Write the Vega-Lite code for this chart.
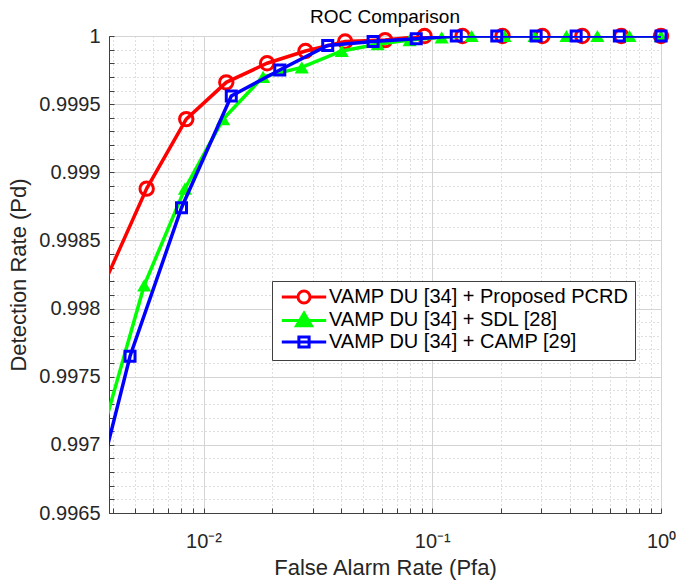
{
  "$schema": "https://vega.github.io/schema/vega-lite/v6.json",
  "width": 552,
  "height": 477,
  "autosize": {"type": "none"},
  "padding": {"left": 109, "top": 36, "right": 16, "bottom": 70},
  "background": "white",
  "title": {"text": "ROC Comparison", "fontSize": 19, "font": "Liberation Sans", "fontWeight": "normal", "color": "#000000", "offset": -4, "anchor": "middle"},
  "config": {
    "view": {"stroke": "#404040", "strokeWidth": 1},
    "font": "Liberation Sans"
  },
  "data": {"values": [
    {"series": "VAMP DU [34] + Proposed PCRD", "fa": 0.00376, "pd": 0.99822},
    {"series": "VAMP DU [34] + Proposed PCRD", "fa": 0.00564, "pd": 0.99888},
    {"series": "VAMP DU [34] + Proposed PCRD", "fa": 0.0084, "pd": 0.99939},
    {"series": "VAMP DU [34] + Proposed PCRD", "fa": 0.01257, "pd": 0.99966},
    {"series": "VAMP DU [34] + Proposed PCRD", "fa": 0.01896, "pd": 0.9998},
    {"series": "VAMP DU [34] + Proposed PCRD", "fa": 0.0279, "pd": 0.99989},
    {"series": "VAMP DU [34] + Proposed PCRD", "fa": 0.0416, "pd": 0.99996},
    {"series": "VAMP DU [34] + Proposed PCRD", "fa": 0.0622, "pd": 0.99997},
    {"series": "VAMP DU [34] + Proposed PCRD", "fa": 0.0925, "pd": 1.0},
    {"series": "VAMP DU [34] + Proposed PCRD", "fa": 0.1356, "pd": 1.0},
    {"series": "VAMP DU [34] + Proposed PCRD", "fa": 0.2028, "pd": 1.0},
    {"series": "VAMP DU [34] + Proposed PCRD", "fa": 0.3033, "pd": 1.0},
    {"series": "VAMP DU [34] + Proposed PCRD", "fa": 0.4531, "pd": 1.0},
    {"series": "VAMP DU [34] + Proposed PCRD", "fa": 0.6707, "pd": 1.0},
    {"series": "VAMP DU [34] + Proposed PCRD", "fa": 1.0, "pd": 1.0},
    {"series": "VAMP DU [34] + SDL [28]", "fa": 0.00367, "pd": 0.99713},
    {"series": "VAMP DU [34] + SDL [28]", "fa": 0.0055, "pd": 0.99817},
    {"series": "VAMP DU [34] + SDL [28]", "fa": 0.00829, "pd": 0.99888},
    {"series": "VAMP DU [34] + SDL [28]", "fa": 0.01218, "pd": 0.99939},
    {"series": "VAMP DU [34] + SDL [28]", "fa": 0.0182, "pd": 0.9997},
    {"series": "VAMP DU [34] + SDL [28]", "fa": 0.02687, "pd": 0.99977},
    {"series": "VAMP DU [34] + SDL [28]", "fa": 0.0402, "pd": 0.99989},
    {"series": "VAMP DU [34] + SDL [28]", "fa": 0.0577, "pd": 0.99994},
    {"series": "VAMP DU [34] + SDL [28]", "fa": 0.0796, "pd": 0.99997},
    {"series": "VAMP DU [34] + SDL [28]", "fa": 0.1099, "pd": 0.99999},
    {"series": "VAMP DU [34] + SDL [28]", "fa": 0.1486, "pd": 1.0},
    {"series": "VAMP DU [34] + SDL [28]", "fa": 0.207, "pd": 1.0},
    {"series": "VAMP DU [34] + SDL [28]", "fa": 0.28, "pd": 1.0},
    {"series": "VAMP DU [34] + SDL [28]", "fa": 0.386, "pd": 1.0},
    {"series": "VAMP DU [34] + SDL [28]", "fa": 0.527, "pd": 1.0},
    {"series": "VAMP DU [34] + SDL [28]", "fa": 0.728, "pd": 1.0},
    {"series": "VAMP DU [34] + SDL [28]", "fa": 1.0, "pd": 1.0},
    {"series": "VAMP DU [34] + CAMP [29]", "fa": 0.0032, "pd": 0.99649},
    {"series": "VAMP DU [34] + CAMP [29]", "fa": 0.00477, "pd": 0.99765},
    {"series": "VAMP DU [34] + CAMP [29]", "fa": 0.00801, "pd": 0.99874},
    {"series": "VAMP DU [34] + CAMP [29]", "fa": 0.01322, "pd": 0.99956},
    {"series": "VAMP DU [34] + CAMP [29]", "fa": 0.02154, "pd": 0.99975},
    {"series": "VAMP DU [34] + CAMP [29]", "fa": 0.0349, "pd": 0.99993},
    {"series": "VAMP DU [34] + CAMP [29]", "fa": 0.0551, "pd": 0.99996},
    {"series": "VAMP DU [34] + CAMP [29]", "fa": 0.0851, "pd": 0.99998},
    {"series": "VAMP DU [34] + CAMP [29]", "fa": 0.1273, "pd": 1.0},
    {"series": "VAMP DU [34] + CAMP [29]", "fa": 0.1914, "pd": 1.0},
    {"series": "VAMP DU [34] + CAMP [29]", "fa": 0.2845, "pd": 1.0},
    {"series": "VAMP DU [34] + CAMP [29]", "fa": 0.4256, "pd": 1.0},
    {"series": "VAMP DU [34] + CAMP [29]", "fa": 0.6575, "pd": 1.0},
    {"series": "VAMP DU [34] + CAMP [29]", "fa": 1.0, "pd": 1.0}
  ]},
  "encoding": {
    "x": {"field": "fa", "type": "quantitative",
      "scale": {"type": "log", "domain": [0.00386, 1], "nice": false},
      "axis": {
        "title": "False Alarm Rate  (Pfa)",
        "labelFont": "Liberation Sans", "titleFont": "Liberation Sans",
        "labelFontSize": 20, "titleFontSize": 22,
        "labelColor": "#262626", "titleColor": "#262626", "titleFontWeight": "normal",
        "domainColor": "#404040", "tickColor": "#404040",
        "values": [0.004, 0.005, 0.006, 0.007, 0.008, 0.009, 0.01, 0.02, 0.03, 0.04, 0.05, 0.06, 0.07, 0.08, 0.09, 0.1, 0.2, 0.3, 0.4, 0.5, 0.6, 0.7, 0.8, 0.9, 1],
        "labelExpr": "datum.value == 0.01 ? '10⁻²' : (datum.value == 0.1 ? '10⁻¹' : (datum.value == 1 ? '10⁰' : ''))",
        "labelFlush": false,
        "labelOverlap": false,
        "grid": true,
        "gridColor": {"condition": {"test": "abs(log(datum.value)/LN10 - round(log(datum.value)/LN10)) < 0.001", "value": "#d4d4d4"}, "value": "#bdbdbd"},
        "gridDash": {"condition": {"test": "abs(log(datum.value)/LN10 - round(log(datum.value)/LN10)) < 0.001", "value": []}, "value": [1, 3]},
        "tickSize": -5,
        "labelPadding": 23,
        "titlePadding": 6
      }
    },
    "y": {"field": "pd", "type": "quantitative",
      "scale": {"domain": [0.9965, 1], "nice": false, "zero": false},
      "axis": {
        "title": "Detection Rate  (Pd)",
        "labelFont": "Liberation Sans", "titleFont": "Liberation Sans",
        "labelFontSize": 20, "titleFontSize": 22,
        "labelColor": "#262626", "titleColor": "#262626", "titleFontWeight": "normal",
        "domainColor": "#404040", "tickColor": "#404040",
        "values": [0.9965, 0.9966, 0.9967, 0.9968, 0.9969, 0.997, 0.9971, 0.9972, 0.9973, 0.9974, 0.9975, 0.9976, 0.9977, 0.9978, 0.9979, 0.998, 0.9981, 0.9982, 0.9983, 0.9984, 0.9985, 0.9986, 0.9987, 0.9988, 0.9989, 0.999, 0.9991, 0.9992, 0.9993, 0.9994, 0.9995, 0.9996, 0.9997, 0.9998, 0.9999, 1],
        "labelExpr": "abs(datum.value*2000 - round(datum.value*2000)) < 0.001 ? format(datum.value, '.4~f') : ''",
        "labelOverlap": false,
        "labelFlush": false,
        "grid": true,
        "gridColor": {"condition": {"test": "abs(datum.value*2000 - round(datum.value*2000)) < 0.001", "value": "#d4d4d4"}, "value": "#bdbdbd"},
        "gridDash": {"condition": {"test": "abs(datum.value*2000 - round(datum.value*2000)) < 0.001", "value": []}, "value": [1, 3]},
        "tickSize": -5,
        "labelPadding": 14,
        "titlePadding": 8
      }
    },
    "color": {"field": "series", "type": "nominal",
      "scale": {"domain": ["VAMP DU [34] + Proposed PCRD", "VAMP DU [34] + SDL [28]", "VAMP DU [34] + CAMP [29]"], "range": ["#ff0000", "#00ff00", "#0000ff"]},
      "legend": {
        "title": null,
        "orient": "none",
        "legendX": 163,
        "legendY": 245,
        "padding": 6,
        "fillColor": "white",
        "strokeColor": "#404040",
        "labelFont": "Liberation Sans",
        "labelFontSize": 20,
        "labelColor": "#000000",
        "labelLimit": 500,
        "symbolSize": 144,
        "symbolOffset": 16,
        "labelOffset": 15,
        "rowPadding": -2,
        "encode": {
          "symbols": {"update": {
            "shape": {"signal": "datum.value === 'VAMP DU [34] + Proposed PCRD' ? 'M-3.7,0H-1A1,1 0 1,1 1,0A1,1 0 1,1 -1,0M1,0H3.7' : (datum.value === 'VAMP DU [34] + SDL [28]' ? 'M-3.7,0.1H3.7M0,-1.15L1.25,0.95H-1.25Z' : 'M-3.7,0H3.7M-0.85,-0.85H0.85V0.85H-0.85Z')"},
            "stroke": {"signal": "scale('color', datum.value)"},
            "fill": {"signal": "datum.value === 'VAMP DU [34] + SDL [28]' ? '#00ff00' : 'transparent'"},
            "fillOpacity": {"signal": "datum.value === 'VAMP DU [34] + SDL [28]' ? 1 : 0"},
            "strokeWidth": {"value": 3},
            "opacity": {"value": 1}
          }}
        }
      }
    }
  },
  "layer": [
    {"transform": [{"filter": "datum.series === 'VAMP DU [34] + Proposed PCRD'"}],
     "mark": {"type": "line", "strokeWidth": 3.5, "clip": true}},
    {"transform": [{"filter": "datum.series === 'VAMP DU [34] + Proposed PCRD' && datum.fa >= 0.00386"}],
     "mark": {"type": "point", "shape": "circle", "size": 180, "strokeWidth": 3, "filled": false, "opacity": 1}},
    {"transform": [{"filter": "datum.series === 'VAMP DU [34] + SDL [28]'"}],
     "mark": {"type": "line", "strokeWidth": 3.5, "clip": true}},
    {"transform": [{"filter": "datum.series === 'VAMP DU [34] + SDL [28]' && datum.fa >= 0.00386"}],
     "mark": {"type": "point", "shape": "triangle-up", "size": 200, "strokeWidth": 1, "filled": true, "opacity": 1}},
    {"transform": [{"filter": "datum.series === 'VAMP DU [34] + CAMP [29]'"}],
     "mark": {"type": "line", "strokeWidth": 3.5, "clip": true}},
    {"transform": [{"filter": "datum.series === 'VAMP DU [34] + CAMP [29]' && datum.fa >= 0.00386"}],
     "mark": {"type": "point", "shape": "square", "size": 100, "strokeWidth": 3, "filled": false, "opacity": 1}}
  ]
}
